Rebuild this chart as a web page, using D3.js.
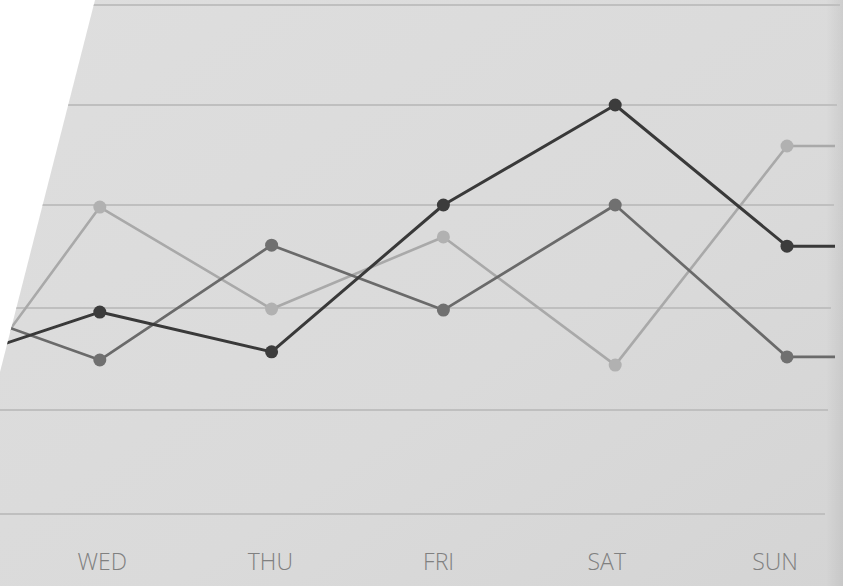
<!DOCTYPE html>
<html>
<head>
<meta charset="utf-8">
<script src="https://cdn.jsdelivr.net/npm/d3@7/dist/d3.min.js"></script>
<style>
  html, body { margin: 0; padding: 0; background: #ffffff; }
  svg { display: block; }
</style>
</head>
<body>
<svg id="chart" width="843" height="586"></svg>
<script>
// ---- data ----
const days = ["TUE", "WED", "THU", "FRI", "SAT", "SUN"];
const yTicks = [0, 10, 20, 30, 40, 50];
const seriesDark   = [14.0, 19.6, 15.7, 30.0, 40.0, 26.0];
const seriesMedium = [20.9, 14.9, 26.1, 19.8, 30.0, 15.2];
const seriesLight  = [7.0, 29.8, 19.9, 26.9, 14.4, 35.9];

// ---- layout ----
const W = 843, H = 586;
const svg = d3.select("#chart");

const x = d3.scalePoint().domain(days).range([-72, 787]);
// label row sits a bit narrower (photo perspective)
const xLabel = d3.scalePoint().domain(days).range([-66, 775]);
// slightly uneven grid spacing from the photo perspective
const y = d3.scaleLinear().domain(yTicks).range([514, 410, 308, 205, 105, 5]);
const gridEnd = d3.scaleLinear().domain([0, 50]).range([825, 840]);
const tailX = 835;

const defs = svg.append("defs");
const grad = defs.append("linearGradient").attr("id", "paper")
  .attr("x1", 0).attr("y1", 0).attr("x2", 1).attr("y2", 1);
grad.append("stop").attr("offset", "0%").attr("stop-color", "#dedede");
grad.append("stop").attr("offset", "60%").attr("stop-color", "#dadada");
grad.append("stop").attr("offset", "100%").attr("stop-color", "#d4d4d4");

const edge = defs.append("linearGradient").attr("id", "edge")
  .attr("x1", 0).attr("y1", 0).attr("x2", 1).attr("y2", 0);
edge.append("stop").attr("offset", "0%").attr("stop-color", "#000").attr("stop-opacity", 0);
edge.append("stop").attr("offset", "100%").attr("stop-color", "#000").attr("stop-opacity", 0.06);

const paperPts = [[95, 0], [W, 0], [W, H], [0, H], [0, 372]];
defs.append("clipPath").attr("id", "clip")
  .append("polygon").attr("points", paperPts.map(p => p.join(",")).join(" "));

svg.append("rect").attr("width", W).attr("height", H).attr("fill", "#ffffff");
svg.append("polygon").attr("points", paperPts.map(p => p.join(",")).join(" "))
  .attr("fill", "url(#paper)");

const g = svg.append("g").attr("clip-path", "url(#clip)");

// soft right edge shading
g.append("rect").attr("x", 826).attr("y", 0).attr("width", 17).attr("height", H)
  .attr("fill", "url(#edge)");

// grid lines
g.selectAll("line.grid").data(yTicks).join("line")
  .attr("class", "grid")
  .attr("x1", 0).attr("x2", d => gridEnd(d))
  .attr("y1", d => y(d)).attr("y2", d => y(d))
  .attr("stroke", "#bfbfbf").attr("stroke-width", 2);

// series
const series = [
  { name: "light",  values: seriesLight,  line: "#a9a9a9", dot: "#b1b1b1", w: 2.6, r: 6.5 },
  { name: "medium", values: seriesMedium, line: "#6a6a6a", dot: "#707070", w: 2.7, r: 6.5 },
  { name: "dark",   values: seriesDark,   line: "#393939", dot: "#3c3c3c", w: 3,   r: 6.5 }
];

const lineGen = d3.line().x(d => d[0]).y(d => d[1]);

series.forEach(s => {
  const pts = days.map((d, i) => [x(d), y(s.values[i])]);
  pts.push([tailX, y(s.values[s.values.length - 1])]);
  g.append("path").attr("d", lineGen(pts))
    .attr("fill", "none").attr("stroke", s.line)
    .attr("stroke-width", s.w).attr("stroke-linejoin", "round");
});
series.forEach(s => {
  g.selectAll("circle." + s.name).data(days).join("circle")
    .attr("class", s.name)
    .attr("cx", d => x(d))
    .attr("cy", (d, i) => y(s.values[i]))
    .attr("r", s.r)
    .attr("fill", s.dot);
});

// x labels (only the days that fall inside the photographed page)
g.selectAll("text.day").data(days.filter(d => xLabel(d) > 0)).join("text")
  .attr("class", "day")
  .attr("x", d => xLabel(d))
  .attr("y", 570)
  .attr("text-anchor", "middle")
  .attr("font-family", "'Open Sans', 'Liberation Sans', sans-serif")
  .attr("font-weight", 300)
  .attr("font-size", 23)
  .attr("fill", "#808080")
  .text(d => d);
</script>
</body>
</html>
